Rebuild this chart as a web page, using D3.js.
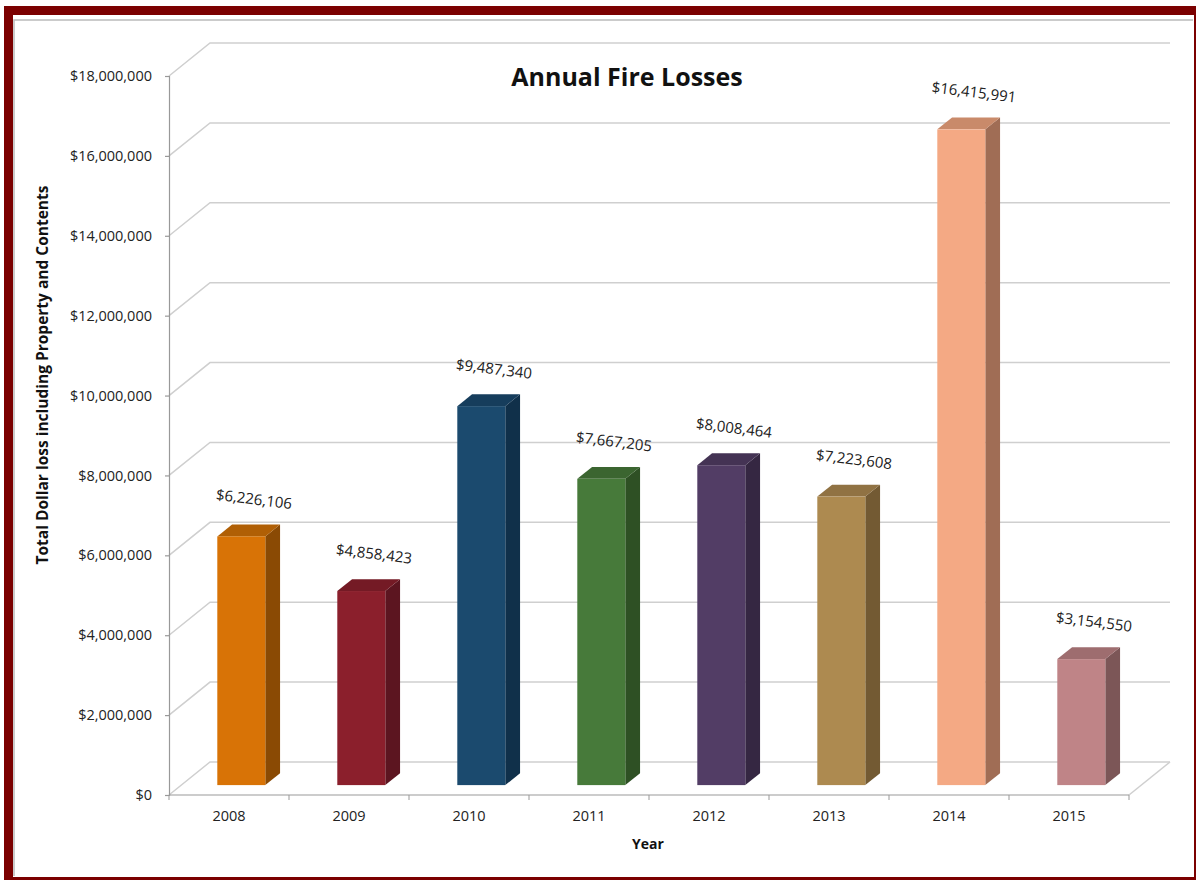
<!DOCTYPE html>
<html lang="en">
<head>
    <meta charset="utf-8">
    <title>Annual Fire Losses</title>
    <style>
        body {
            margin: 0;
            background: #fff;
            font-family: "Open Sans", sans-serif;
        }

        .tick text {
            fill: #222;
        }
    </style>
</head>
<body>
<svg class="chart"></svg>
<script src="https://d3js.org/d3.v7.min.js"></script>
<script>

  const width = 1196;
  const height = 880;

  const years = ["2008", "2009", "2010", "2011", "2012", "2013", "2014", "2015"];
  const losses = [6226106, 4858423, 9487340, 7667205, 8008464, 7223608, 16415991, 3154550];
  const yTicks = [0, 2000000, 4000000, 6000000, 8000000, 10000000, 12000000, 14000000, 16000000, 18000000];

  // front, side, top shades for each bar
  const frontColors = ["#d87306", "#8b1f2c", "#1b4a6e", "#477a3a", "#523d65", "#ad8a50", "#f4a984", "#bf8487"];
  const sideColors = ["#8a4a04", "#5c1520", "#10304a", "#2e5024", "#352742", "#735a33", "#a06d55", "#7c5657"];
  const topColors = ["#b05f05", "#741a25", "#163d5c", "#3b6530", "#443354", "#907243", "#c98a6a", "#9e6d6f"];

  // depth of the 3D floor, in pixels
  const DX = 41;
  const DY = 33;
  const zFront = 0.3;
  const zBack = 0.66;

  const svg = d3.select(".chart")
    .attr("width", width)
    .attr("height", height);

  // dark red frame
  svg.append("rect")
    .attr("x", 4).attr("y", 6)
    .attr("width", width - 4).attr("height", height - 6)
    .attr("fill", "#7b0000");
  svg.append("rect")
    .attr("x", 13).attr("y", 15)
    .attr("width", 1181).attr("height", 862)
    .attr("fill", "#fff");
  svg.append("path")
    .attr("d", "M14,876V20H1193")
    .attr("fill", "none")
    .attr("stroke", "#bbb")
    .attr("stroke-width", 1.5);

  const x = d3.scaleBand()
    .domain(years)
    .range([169, 1129])
    .paddingInner(0.6)
    .paddingOuter(0.3);

  const y = d3.scaleLinear()
    .domain([0, 18000000])
    .range([795, 76]);

  const x0 = 169;
  const x1 = 1129;

  // back wall gridlines + left wall diagonals
  const grid = svg.append("g")
    .attr("fill", "none")
    .attr("stroke", "#cfcfcf")
    .attr("stroke-width", 1.5);

  grid.selectAll("path")
    .data(yTicks)
    .enter()
    .append("path")
    .attr("d", d => `M${x0},${y(d)}L${x0 + DX},${y(d) - DY}H${x1 + DX}`);

  // floor right edge
  grid.append("path")
    .attr("d", `M${x1},${y(0)}L${x1 + DX},${y(0) - DY}`);

  // front floor edge / category axis
  svg.append("line")
    .attr("x1", x0).attr("x2", x1)
    .attr("y1", y(0)).attr("y2", y(0))
    .attr("stroke", "#999")
    .attr("stroke-width", 1.2);

  svg.append("g")
    .selectAll("line")
    .data(d3.range(years.length + 1))
    .enter()
    .append("line")
    .attr("x1", i => x0 + i * x.step())
    .attr("x2", i => x0 + i * x.step())
    .attr("y1", y(0))
    .attr("y2", y(0) + 5)
    .attr("stroke", "#999");

  // y axis
  const yAxis = d3.axisLeft(y)
    .tickValues(yTicks)
    .tickFormat(d3.format("$,"))
    .tickSize(4)
    .tickPadding(13);

  const gy = svg.append("g")
    .attr("transform", `translate(${x0},0)`)
    .call(yAxis);
  gy.selectAll("path, line").attr("stroke", "#999").attr("stroke-width", 1.2);
  gy.selectAll("text")
    .style("font-family", "Open Sans, sans-serif")
    .style("font-size", "14.5px");

  // x axis labels
  const xAxis = d3.axisBottom(x)
    .tickSize(0)
    .tickPadding(16);

  const gx = svg.append("g")
    .attr("transform", `translate(0,${y(0)})`)
    .call(xAxis);
  gx.select(".domain").remove();
  gx.selectAll("text")
    .style("font-family", "Open Sans, sans-serif")
    .style("font-size", "14.5px");

  // 3D bars
  const bars = svg.append("g")
    .selectAll("g")
    .data(years.map((yr, i) => ({ yr, v: losses[i], i })))
    .enter()
    .append("g");

  const fx = d => x(d.yr) + zFront * DX;
  const bx = d => x(d.yr) + zBack * DX;
  const bw = x.bandwidth();
  const fy = v => y(v) - zFront * DY;
  const by = v => y(v) - zBack * DY;

  // side face
  bars.append("path")
    .attr("fill", d => sideColors[d.i])
    .attr("d", d => `M${fx(d) + bw},${fy(0)}L${bx(d) + bw},${by(0)}L${bx(d) + bw},${by(d.v)}L${fx(d) + bw},${fy(d.v)}Z`);

  // top face
  bars.append("path")
    .attr("fill", d => topColors[d.i])
    .attr("d", d => `M${fx(d)},${fy(d.v)}L${bx(d)},${by(d.v)}H${bx(d) + bw}L${fx(d) + bw},${fy(d.v)}Z`);

  // front face
  bars.append("rect")
    .attr("fill", d => frontColors[d.i])
    .attr("x", fx)
    .attr("y", d => fy(d.v))
    .attr("width", bw)
    .attr("height", d => fy(0) - fy(d.v));

  // value labels
  bars.append("text")
    .attr("transform", d => `translate(${fx(d) + bw / 2 + 12},${fy(d.v) - 32}) rotate(7)`)
    .attr("text-anchor", "middle")
    .style("font-size", "15px")
    .attr("fill", "#222")
    .text(d => d3.format("$,")(d.v));

  // titles
  svg.append("text")
    .attr("x", 627)
    .attr("y", 86)
    .attr("text-anchor", "middle")
    .style("font-size", "25px")
    .style("font-weight", "bold")
    .attr("fill", "#111")
    .text("Annual Fire Losses");

  svg.append("text")
    .attr("x", 648)
    .attr("y", 849)
    .attr("text-anchor", "middle")
    .style("font-size", "14px")
    .style("font-weight", "bold")
    .attr("fill", "#111")
    .text("Year");

  svg.append("text")
    .attr("transform", "translate(48,375) rotate(-90)")
    .attr("text-anchor", "middle")
    .style("font-size", "15.5px")
    .style("font-weight", "bold")
    .attr("fill", "#111")
    .text("Total Dollar loss including Property and Contents");

</script>
</body>
</html>
